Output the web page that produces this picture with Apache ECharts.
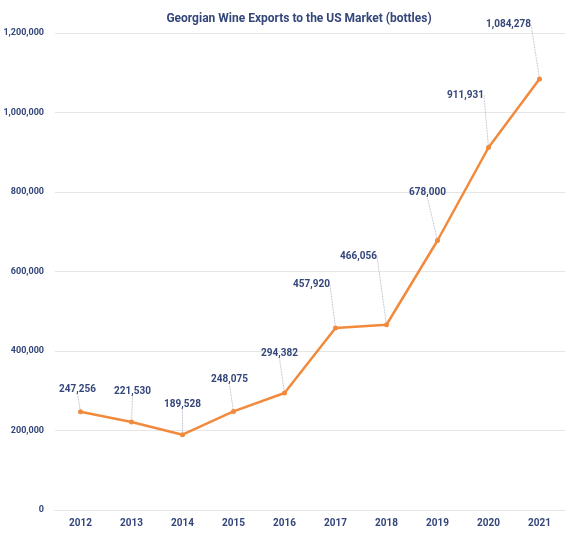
<!DOCTYPE html>
<html><head><meta charset="utf-8">
<script src="https://cdn.jsdelivr.net/npm/echarts@6/dist/echarts.min.js"></script>
<style>html,body{margin:0;padding:0;background:#fff}#c{width:577px;height:537px}</style>
</head><body><div id="c"></div>
<script>
const years = ['2012','2013','2014','2015','2016','2017','2018','2019','2020','2021'];
const bottles = [247256, 221530, 189528, 248075, 294382, 457920, 466056, 678000, 911931, 1084278];
const yTicks = [0, 200000, 400000, 600000, 800000, 1000000, 1200000];
// label offsets (styling) relative to default top position
const labelDx = [-3, 1, 0, -4, -5, -24, -28, -10, -23, -31];
const labelDy = [-10, -18, -18, -19, -27, -31, -56, -35, -40, -42];

const navy = '#34467a';
const chart = echarts.init(document.getElementById('c'));
chart.setOption({
  animation: false,
  title: {
    text: 'Georgian Wine Exports to the US Market (bottles)',
    left: 294, textAlign: 'center', top: 8,
    textStyle: { fontFamily: 'Roboto', fontWeight: 'bold', fontSize: 12, color: navy }
  },
  grid: { left: 55, right: 12, top: 33, bottom: 27, outerBoundsMode: 'none', containLabel: false },
  xAxis: {
    type: 'category', data: years, boundaryGap: true,
    axisLine: { lineStyle: { color: '#e3e3e3', width: 1 } },
    axisTick: { show: false },
    axisLabel: { color: navy, fontFamily: 'Roboto', fontWeight: 'bold', fontSize: 10, margin: 8 }
  },
  yAxis: {
    type: 'value', min: yTicks[0], max: yTicks[yTicks.length - 1], interval: 200000,
    axisLine: { show: false }, axisTick: { show: false },
    splitLine: { lineStyle: { color: '#e6e6e6', width: 1 } },
    axisLabel: {
      color: navy, fontFamily: 'Roboto', fontWeight: 'bold', fontSize: 9, margin: 11,
      formatter: v => v.toLocaleString('en-US')
    }
  },
  series: [{
    type: 'line', data: bottles,
    lineStyle: { color: '#f28a3d', width: 2.5 },
    itemStyle: { color: '#f28a3d' },
    symbol: 'circle', symbolSize: 5,
    label: {
      show: true, position: 'top', distance: 5,
      color: navy, fontFamily: 'Roboto', fontWeight: 'bold', fontSize: 10,
      formatter: p => p.value.toLocaleString('en-US')
    },
    labelLine: { show: true, lineStyle: { color: '#9aa3b8', width: 0.8, type: 'dotted' } },
    labelLayout: p => ({ dx: labelDx[p.dataIndex], dy: labelDy[p.dataIndex] })
  }]
});
</script></body></html>
